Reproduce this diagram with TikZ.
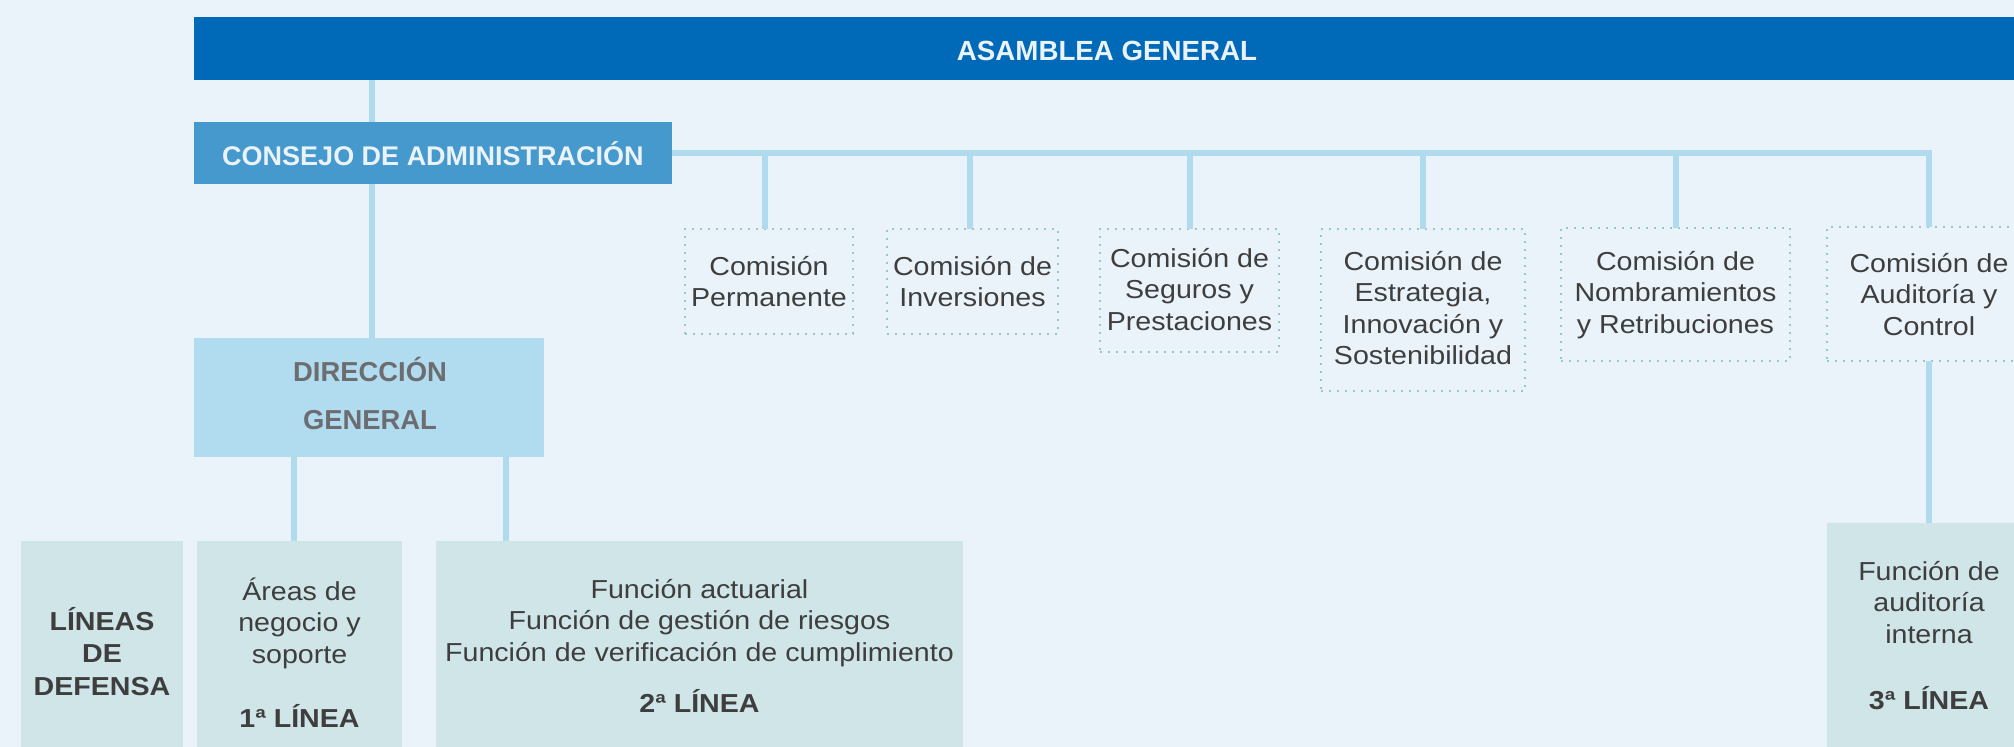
\documentclass[tikz,border=0pt]{standalone}
\usepackage{fontspec}
\setmainfont{Liberation Sans}
\newfontfamily\widefont[FakeStretch=1.1]{Liberation Sans}
\definecolor{bgc}{RGB}{234,243,250}
\definecolor{barc}{RGB}{0,106,185}
\definecolor{consc}{RGB}{70,153,205}
\definecolor{linec}{RGB}{176,219,239}
\definecolor{dirc}{RGB}{177,219,238}
\definecolor{lowc}{RGB}{208,229,232}
\definecolor{dotc}{RGB}{150,200,200}
\definecolor{txtc}{RGB}{62,62,62}
\definecolor{dirt}{RGB}{107,109,112}
\definecolor{whtt}{RGB}{234,242,250}
\newcommand{\ml}[1]{\begin{tabular}[t]{@{}c@{}}#1\end{tabular}}
\begin{document}
\begin{tikzpicture}[x=1pt,y=-1pt,
  pbox/.style={inner sep=0pt, outer sep=0pt, draw=none},
  combox/.style={pbox, draw=dotc, line width=1.6pt, dash pattern=on 1.6pt off 6.4pt},
  conn/.style={draw=linec, line width=6pt, line join=miter},
  regt/.style={inner sep=0pt, anchor=base, text=txtc, font=\widefont\fontsize{26}{31.5}\selectfont},
  boldt/.style={inner sep=0pt, anchor=base, text=txtc, font=\widefont\bfseries\fontsize{26}{32.5}\selectfont},
]
\useasboundingbox (0,0) rectangle (2014,747);
\fill[bgc] (0,0) rectangle (2014,747);
\clip (0,0) rectangle (2014,747);

% top boxes
\node[pbox, fill=barc, minimum width=1836pt, minimum height=63pt] (asam) at (1112,48.5) {};
\node[pbox, fill=consc, minimum width=478pt, minimum height=62pt] (cons) at (433,153) {};
\node[pbox, fill=dirc, minimum width=350pt, minimum height=119pt] (dir) at (369,397.5) {};

% committees
\node[combox, minimum width=168pt, minimum height=105pt] (perm) at (769,281.5) {};
\node[combox, minimum width=171pt, minimum height=105pt] (inv) at (972.5,281.5) {};
\node[combox, minimum width=179pt, minimum height=123pt] (seg) at (1189.5,290.5) {};
\node[combox, minimum width=204pt, minimum height=162pt] (est) at (1423,310) {};
\node[combox, minimum width=229pt, minimum height=133pt] (nom) at (1675.5,294.5) {};
\node[combox, minimum width=204pt, minimum height=134pt] (aud) at (1929,294) {};

% lower boxes
\node[pbox, fill=lowc, minimum width=162pt, minimum height=219pt] (lin) at (102,650.5) {};
\node[pbox, fill=lowc, minimum width=205pt, minimum height=219pt] (areas) at (299.5,650.5) {};
\node[pbox, fill=lowc, minimum width=527pt, minimum height=219pt] (func) at (699.5,650.5) {};
\node[pbox, fill=lowc, minimum width=204pt, minimum height=237pt] (audi) at (1929,641.5) {};

% connectors
\draw[conn] (cons.north -| 372,0) -- (asam.south -| 372,0);
\draw[conn] (cons.south -| 372,0) -- (dir.north -| 372,0);
\draw[conn] (cons.east) -| (aud.north);
\draw[conn] (perm.north -| 765,0) -- (cons.east -| 765,0);
\draw[conn] (inv.north -| 970,0) -- (cons.east -| 970,0);
\draw[conn] (seg.north) -- (cons.east -| seg.north);
\draw[conn] (est.north) -- (cons.east -| est.north);
\draw[conn] (nom.north) -- (cons.east -| nom.north);
\draw[conn] (aud.south) -- (audi.north);
\draw[conn] (dir.south -| 294,0) -- (areas.north -| 294,0);
\draw[conn] (dir.south -| 506,0) -- (func.north -| 506,0);

% texts
\node[inner sep=0pt, anchor=base, text=whtt, font=\bfseries\fontsize{27.7}{30}\selectfont] (asamT) at (1107,60) {ASAMBLEA GENERAL};
\node[inner sep=0pt, anchor=base, text=whtt, font=\bfseries\fontsize{27}{30}\selectfont] (consT) at (433,165) {CONSEJO DE ADMINISTRACIÓN};
\node[inner sep=0pt, anchor=base, text=dirt, font=\bfseries\fontsize{27.4}{48}\selectfont] (dirT) at (370,381) {\ml{DIRECCIÓN\\GENERAL}};

\node[regt] (permT) at (769,275) {\ml{Comisión\\Permanente}};
\node[regt] (invT) at (972.5,275) {\ml{Comisión de\\Inversiones}};
\node[regt] (segT) at (1189.5,267) {\ml{Comisión de\\Seguros y\\Prestaciones}};
\node[regt] (estT) at (1423,270) {\ml{Comisión de\\Estrategia,\\Innovación y\\Sostenibilidad}};
\node[regt] (nomT) at (1675.5,270) {\ml{Comisión de\\Nombramientos\\y Retribuciones}};
\node[regt] (audT) at (1929,272) {\ml{Comisión de\\Auditoría y\\Control}};

\node[boldt] (linT) at (102,630) {\ml{LÍNEAS\\DE\\DEFENSA}};
\node[regt] (areasT) at (299.5,600) {\ml{Áreas de\\negocio y\\soporte}};
\node[boldt] (areasL) at (299.5,727) {1ª LÍNEA};
\node[regt] (funcT) at (699.5,598) {\ml{Función actuarial\\Función de gestión de riesgos\\Función de verificación de cumplimiento}};
\node[boldt] (funcL) at (699.5,712) {2ª LÍNEA};
\node[regt] (audiT) at (1929,580) {\ml{Función de\\auditoría\\interna}};
\node[boldt] (audiL) at (1929,709) {3ª LÍNEA};
\end{tikzpicture}
\end{document}
